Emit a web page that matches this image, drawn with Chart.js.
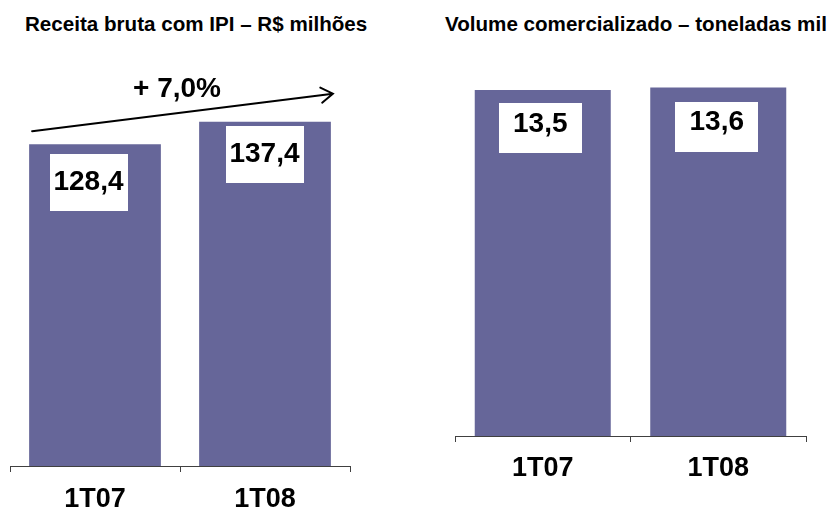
<!DOCTYPE html>
<html>
<head>
<meta charset="utf-8">
<script src="https://cdn.jsdelivr.net/npm/chart.js@4.4.1/dist/chart.umd.min.js"></script>
<style>
  html, body { margin: 0; padding: 0; background: #fff; }
  #wrap { position: relative; width: 831px; height: 510px; overflow: hidden;
          font-family: "Liberation Sans", Arial, sans-serif; }
  .title { position: absolute; top: 12px; font-weight: bold; font-size: 20.6px; line-height: 23px;
           color: #000; white-space: nowrap; }
  .panel { position: absolute; top: 0; height: 510px; }
</style>
</head>
<body>
<div id="wrap">
  <div class="title" style="left:25px">Receita bruta com IPI – R$ milhões</div>
  <div class="title" style="left:445px">Volume comercializado – toneladas mil</div>
  <div class="panel" style="left:0;width:420px"><canvas id="c-receita" width="420" height="510"></canvas></div>
  <div class="panel" style="left:420px;width:411px"><canvas id="c-volume" width="411" height="510"></canvas></div>
</div>
<script>
// Two quarter-on-quarter bar panels: revenue (R$ mi) and volume (mil t).
var categories = ['1T07', '1T08'];
var receita = [128.4, 137.4];
var volume = [13.5, 13.6];

var FONT = '"Liberation Sans", Arial, sans-serif';
var BAR = '#666699';
var AXIS = '#404040';

function fmt(v) { return v.toFixed(1).replace('.', ','); }

// White boxes with the value, sitting inside the top of each bar
var valueBoxes = {
  id: 'valueBoxes',
  afterDatasetsDraw: function (chart, args, o) {
    var ctx = chart.ctx;
    var bars = chart.getDatasetMeta(0).data;
    var vals = chart.data.datasets[0].data;
    ctx.save();
    ctx.font = 'bold 28px ' + FONT;
    ctx.textAlign = 'center';
    ctx.textBaseline = 'middle';
    bars.forEach(function (bar, i) {
      var off = o.offsets[i];
      var cx = bar.x + off[0];
      var top = bar.y + off[1];
      ctx.fillStyle = '#fff';
      ctx.fillRect(Math.round(cx - o.w / 2), Math.round(top), o.w, o.h);
      ctx.fillStyle = '#000';
      ctx.fillText(fmt(vals[i]), cx, top + o.h / 2 + o.textDy);
    });
    ctx.restore();
  }
};

// Growth arrow over the bars, with the % change computed from the data
var growthArrow = {
  id: 'growthArrow',
  afterDatasetsDraw: function (chart, args, o) {
    if (!o.show) return;
    var ctx = chart.ctx;
    var bars = chart.getDatasetMeta(0).data;
    var vals = chart.data.datasets[0].data;
    var b0 = bars[0], b1 = bars[bars.length - 1];
    var x0 = b0.x - b0.width / 2 + 3, y0 = b0.y - 13;
    var x1 = b1.x + b1.width / 2 + 2, y1 = b1.y - 28;
    var ang = Math.atan2(y1 - y0, x1 - x0);
    var head = 14, spread = 33 * Math.PI / 180;

    ctx.save();
    ctx.strokeStyle = '#000';
    ctx.lineWidth = 2;
    ctx.lineCap = 'round';
    ctx.beginPath();
    ctx.moveTo(x0, y0);
    ctx.lineTo(x1, y1);
    ctx.moveTo(x1 - head * Math.cos(ang - spread), y1 - head * Math.sin(ang - spread));
    ctx.lineTo(x1, y1);
    ctx.lineTo(x1 - head * Math.cos(ang + spread), y1 - head * Math.sin(ang + spread));
    ctx.stroke();

    var pct = (vals[vals.length - 1] / vals[0] - 1) * 100;
    ctx.fillStyle = '#000';
    ctx.font = 'bold 28px ' + FONT;
    ctx.textAlign = 'center';
    ctx.textBaseline = 'middle';
    ctx.fillText('+ ' + fmt(pct) + '%', (x0 + x1) / 2 - 5.5, (y0 + y1) / 2 - 23);
    ctx.restore();
  }
};

function barChart(id, values, cfg) {
  return new Chart(document.getElementById(id), {
    type: 'bar',
    data: {
      labels: categories,
      datasets: [{
        data: values,
        backgroundColor: BAR,
        borderWidth: 0,
        barPercentage: 0.775,
        categoryPercentage: 1
      }]
    },
    options: {
      responsive: false,
      animation: false,
      events: [],
      layout: { padding: cfg.padding },
      scales: {
        x: {
          afterFit: function (s) { s.height = cfg.axisHeight; },
          grid: { display: true, drawOnChartArea: false, drawTicks: true, tickLength: 6,
                  color: AXIS, offset: true },
          border: { display: true, color: AXIS, width: 1 },
          ticks: { color: '#000', padding: cfg.tickPad,
                   font: { family: FONT, size: 27, weight: 'bold' } }
        },
        y: { display: false, min: 0, max: cfg.yMax }
      },
      plugins: {
        legend: { display: false },
        tooltip: { enabled: false },
        valueBoxes: cfg.boxes,
        growthArrow: { show: !!cfg.arrow }
      }
    },
    plugins: [valueBoxes, growthArrow]
  });
}

barChart('c-receita', receita, {
  padding: { left: 10, right: 70, top: 40, bottom: 0 },
  axisHeight: 44, tickPad: 11, yMax: 170, arrow: true,
  boxes: { w: 78, h: 57, textDy: 0, offsets: [[-6.5, 10], [-0.5, 4]] }
});

barChart('c-volume', volume, {
  padding: { left: 35, right: 25, top: 26, bottom: 0 },
  axisHeight: 74, tickPad: 10, yMax: 16,
  boxes: { w: 83, h: 50, textDy: -4, offsets: [[-2.5, 13], [-1.5, 14]] }
});
</script>
</body>
</html>
